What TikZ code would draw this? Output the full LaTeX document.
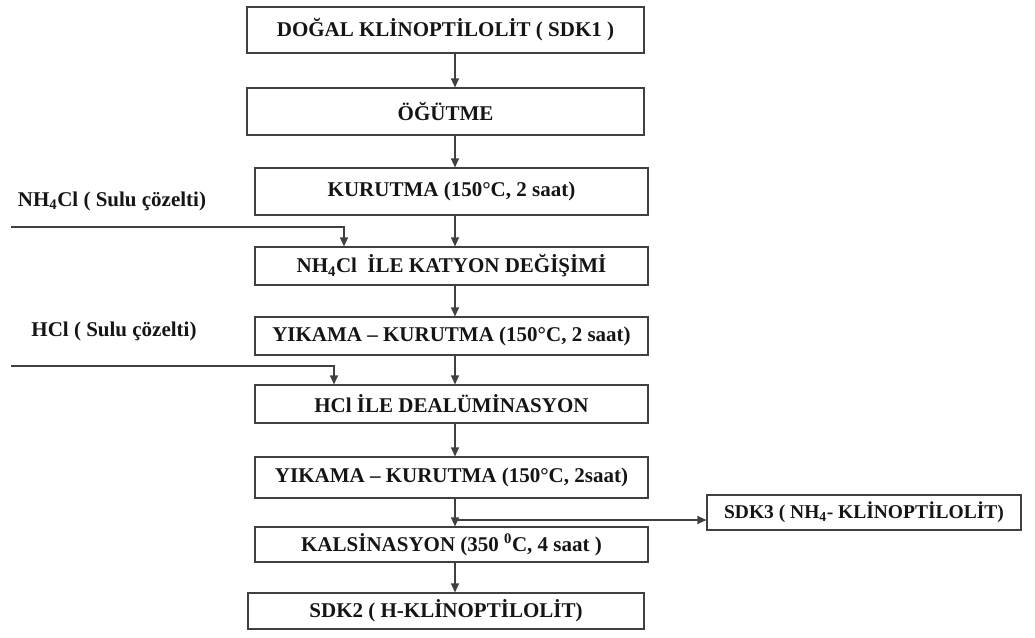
\documentclass[tikz,border=0pt]{standalone}
\usepackage{fontspec}
\setmainfont{Liberation Serif}
\usetikzlibrary{arrows.meta,calc}
\definecolor{ln}{HTML}{404040}
\definecolor{tx}{HTML}{151515}
\begin{document}
\begin{tikzpicture}[x=1pt,y=-1pt,
  box/.style={draw=ln,line width=1.2pt,inner sep=0pt,text=tx,
    font=\fontsize{21}{24}\selectfont\bfseries},
  lbl/.style={inner sep=0pt,text=tx,font=\fontsize{21}{24}\selectfont\bfseries},
  arr/.style={draw=ln,line width=1.2pt,-{Triangle[length=9pt,width=8pt]}},
  ln/.style={draw=ln,line width=1.2pt}]
\useasboundingbox (0,0) rectangle (1035,637);
% axis coordinates
\coordinate (ax) at (455,0);
\coordinate (nx) at (344,0);
\coordinate (hx) at (334,0);
% boxes
\node[box,minimum width=397pt,minimum height=46pt] (b1) at (445.5,30) {DOĞAL KLİNOPTİLOLİT ( SDK1 )};
\node[box,minimum width=397pt,minimum height=47pt] (b2) at (445.5,111.5) {ÖĞÜTME};
\node[box,minimum width=393pt,minimum height=47pt] (b3) at (451.5,191.5) {KURUTMA (150°C, 2 saat)};
\node[box,minimum width=393pt,minimum height=38pt] (b4) at (451.5,266) {NH\textsubscript{4}Cl \ İLE KATYON DEĞİŞİMİ};
\node[box,minimum width=393pt,minimum height=38pt] (b5) at (451.5,336) {YIKAMA – KURUTMA (150°C, 2 saat)};
\node[box,minimum width=393pt,minimum height=38pt] (b6) at (451.5,404) {HCl İLE DEALÜMİNASYON};
\node[box,minimum width=393pt,minimum height=41pt] (b7) at (451.5,477.5) {YIKAMA – KURUTMA (150°C, 2saat)};
\node[box,minimum width=393pt,minimum height=35pt] (b8) at (451.5,544.5) {KALSİNASYON (350 \textsuperscript{0}C, 4 saat )};
\node[box,minimum width=396pt,minimum height=36pt] (b9) at (446,611) {SDK2 ( H-KLİNOPTİLOLİT)};
\node[box,minimum width=314pt,minimum height=35pt,font=\fontsize{19.5}{22}\selectfont\bfseries] (b10) at (864,512.5) {SDK3 ( NH\textsubscript{4}- KLİNOPTİLOLİT)};
% side labels
\node[lbl] (l1) at (112,201) {NH\textsubscript{4}Cl ( Sulu çözelti)};
\node[lbl] (l2) at (114,331) {HCl ( Sulu çözelti)};
% main arrows
\draw[arr] (b1.south -| ax) -- (b2.north -| ax);
\draw[arr] (b2.south -| ax) -- (b3.north -| ax);
\draw[arr] (b3.south -| ax) -- (b4.north -| ax);
\draw[arr] (b4.south -| ax) -- (b5.north -| ax);
\draw[arr] (b5.south -| ax) -- (b6.north -| ax);
\draw[arr] (b6.south -| ax) -- (b7.north -| ax);
\draw[arr] (b7.south -| ax) -- (b8.north -| ax);
\draw[arr] (b8.south -| ax) -- (b9.north -| ax);
% feeds
\coordinate (n0) at (11,227);
\coordinate (h0) at (11,366);
\draw[arr] (n0) -| (b4.north -| nx);
\draw[arr] (h0) -| (b6.north -| hx);
% branch
\coordinate (br) at (455,520);
\draw[arr] (br) -- (b10.west |- br);
\end{tikzpicture}
\end{document}
